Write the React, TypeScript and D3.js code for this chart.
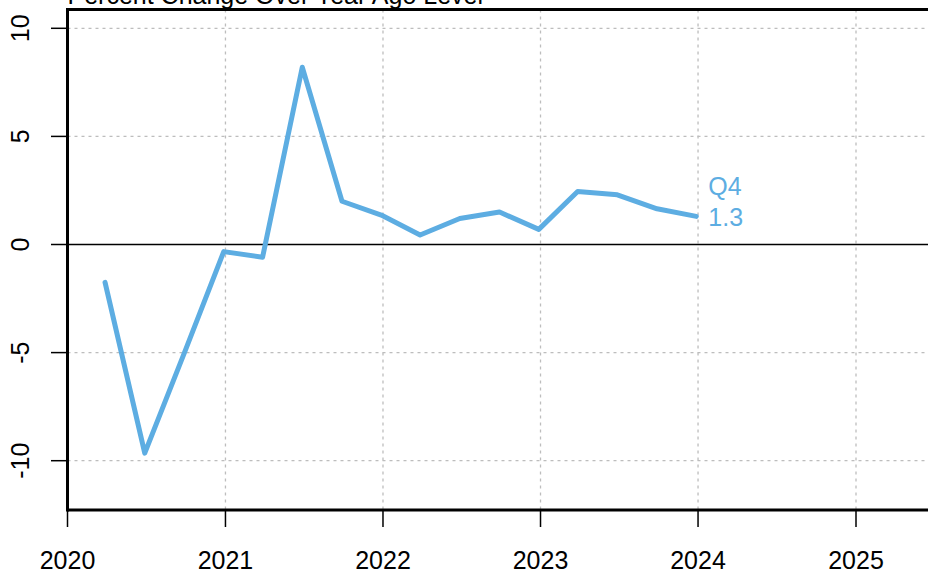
import React from "react";
import * as d3 from "d3";

const dates = [
  "2020-03-28", "2020-06-28", "2020-09-28", "2020-12-28",
  "2021-03-28", "2021-06-28", "2021-09-28", "2021-12-28",
  "2022-03-28", "2022-06-28", "2022-09-28", "2022-12-28",
  "2023-03-28", "2023-06-28", "2023-09-28", "2023-12-28",
];
const values = [
  -1.75, -9.65, -5.0, -0.33,
  -0.59, 8.2, 2.0, 1.36,
  0.44, 1.2, 1.5, 0.7,
  2.45, 2.3, 1.65, 1.3,
];
const xTickYears = [2020, 2021, 2022, 2023, 2024, 2025];
const yTicks = [-10, -5, 0, 5, 10];
const title = "Percent Change Over Year Ago Level";
const lastLabel = "Q4";

const W = 928;
const H = 574;
const FONT = "Liberation Sans, Arial, sans-serif";
const BLUE = "#5DADE2";
const FS = 25;

export default function App() {
  const left = 67.5;
  const top = 9.5;
  const bottom = 510;
  const x = d3
    .scaleTime()
    .domain([new Date(2020, 0, 1), new Date(2025, 0, 1)])
    .range([left, 856]);
  const y = d3.scaleLinear().domain([0, -10]).range([244.5, 460.7]);

  const parse = d3.timeParse("%Y-%m-%d");
  const pts = dates.map((d, i) => ({ date: parse(d) as Date, v: values[i] }));
  const line = d3
    .line<{ date: Date; v: number }>()
    .x((d) => x(d.date))
    .y((d) => y(d.v));

  const last = pts[pts.length - 1];
  const lx = x(last.date) + 12;
  const ly = y(last.v);

  return (
    <svg
      width={W}
      height={H}
      style={{ position: "absolute", left: 0, top: 0, background: "#fff" }}
      fontFamily={FONT}
    >
      <rect x={0} y={0} width={W} height={H} fill="#fff" />
      {/* grid */}
      {yTicks
        .filter((t) => t !== 0)
        .map((t) => (
          <line
            key={"gy" + t}
            x1={left}
            x2={W}
            y1={y(t)}
            y2={y(t)}
            stroke="#bdbdbd"
            strokeWidth={1.3}
            strokeDasharray="3,4"
          />
        ))}
      {xTickYears
        .filter((yr) => yr !== 2020)
        .map((yr) => (
          <line
            key={"gx" + yr}
            x1={x(new Date(yr, 0, 1))}
            x2={x(new Date(yr, 0, 1))}
            y1={top}
            y2={bottom}
            stroke="#bdbdbd"
            strokeWidth={1.3}
            strokeDasharray="3,4"
          />
        ))}
      {/* zero line */}
      <line x1={left} x2={W} y1={y(0)} y2={y(0)} stroke="#000" strokeWidth={1.3} />
      {/* data line */}
      <path
        d={line(pts) || ""}
        fill="none"
        stroke={BLUE}
        strokeWidth={5}
        strokeLinejoin="round"
        strokeLinecap="round"
      />
      {/* frame */}
      <line x1={left} x2={W} y1={top} y2={top} stroke="#000" strokeWidth={3} />
      <line x1={left} x2={W} y1={bottom} y2={bottom} stroke="#000" strokeWidth={3} />
      <line x1={left} x2={left} y1={top - 1.5} y2={bottom + 1.5} stroke="#000" strokeWidth={3} />
      {/* y axis ticks and labels */}
      {yTicks.map((t) => (
        <g key={"yt" + t}>
          <line x1={51} x2={left} y1={y(t)} y2={y(t)} stroke="#000" strokeWidth={1.5} />
          <text
            transform={`translate(29,${y(t)}) rotate(-90)`}
            textAnchor="middle"
            fontSize={FS}
            fill="#000"
          >
            {t}
          </text>
        </g>
      ))}
      {/* x axis ticks and labels */}
      {xTickYears.map((yr) => {
        const xx = x(new Date(yr, 0, 1));
        return (
          <g key={"xt" + yr}>
            <line x1={xx} x2={xx} y1={bottom} y2={527} stroke="#000" strokeWidth={1.5} />
            <text x={xx} y={569} textAnchor="middle" fontSize={FS} fill="#000">
              {yr}
            </text>
          </g>
        );
      })}
      {/* end label */}
      <text x={lx} y={ly - 21} fontSize={FS} fill={BLUE}>
        {lastLabel}
      </text>
      <text x={lx} y={ly + 10} fontSize={FS} fill={BLUE}>
        {d3.format(".1f")(last.v)}
      </text>
      {/* title */}
      <text x={left} y={4} fontSize={FS} fill="#000">
        {title}
      </text>
    </svg>
  );
}
